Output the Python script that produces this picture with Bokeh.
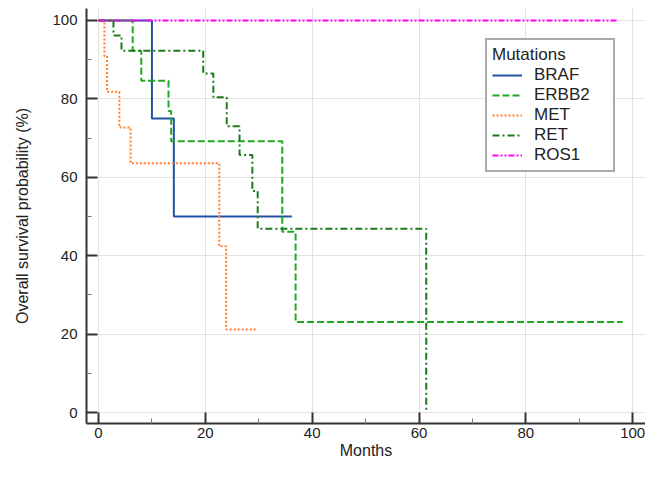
from bokeh.plotting import figure
from bokeh.models import Range1d, Legend, LegendItem, FixedTicker
from bokeh.embed import file_html
from bokeh.resources import INLINE

# Kaplan-Meier step data (months, survival %)
braf_t = [0, 10.0, 14.1, 36.2]
braf_s = [100, 75.0, 50.0, 50.0]
erbb2_t = [0, 6.4, 8.0, 13.1, 13.6, 34.4, 36.9, 98.1]
erbb2_s = [100, 92.3, 84.6, 76.9, 69.2, 46.1, 23.1, 23.1]
met_t = [0, 1.1, 1.6, 3.9, 6.0, 22.6, 23.9, 29.8]
met_s = [100, 90.9, 81.8, 72.7, 63.6, 42.4, 21.2, 21.2]
ret_t = [0, 2.8, 4.3, 19.6, 21.5, 24.0, 26.4, 28.8, 29.8, 61.35]
ret_s = [100, 96.2, 92.3, 86.5, 80.4, 73.0, 65.7, 56.5, 46.9, 0]
ros1_t = [0, 97.0]
ros1_s = [100, 100]

labels = ["BRAF", "ERBB2", "MET", "RET", "ROS1"]
x_ticks = [0, 20, 40, 60, 80, 100]
x_minor = [10, 30, 50, 70, 90]
y_ticks = [0, 20, 40, 60, 80, 100]
y_minor = [10, 30, 50, 70, 90]

FONT = "Liberation Sans"

p = figure(width=645, height=463, output_backend="svg", toolbar_location=None,
           x_range=Range1d(-2.25, 102.4), y_range=Range1d(-2.8, 103.06),
           min_border_left=86, min_border_right=0, min_border_top=8, min_border_bottom=40)
p.outline_line_color = None
p.background_fill_color = "white"
p.border_fill_color = "white"

series = [
    (braf_t, braf_s, "#2152a2", "solid"),
    (erbb2_t, erbb2_s, "#22a722", "7 3"),
    (met_t, met_s, "#ff7f2a", "2 2"),
    (ret_t, ret_s, "#1c7a1c", "7 3 2 3"),
    (ros1_t, ros1_s, "#ff00ff", "6 2 2 2 2 2"),
]
renderers = []
for (t, s, c, d) in series:
    r = p.step(t, s, mode="after", line_color=c, line_width=2, line_dash=d)
    renderers.append(r)

for ax, tk, mn in [(p.xaxis, x_ticks, x_minor), (p.yaxis, y_ticks, y_minor)]:
    ax.ticker = FixedTicker(ticks=tk, minor_ticks=mn)
    ax.axis_line_color = "#333333"
    ax.axis_line_width = 2
    ax.major_tick_in = 11
    ax.major_tick_out = 0
    ax.major_tick_line_color = "#333333"
    ax.major_tick_line_width = 2
    ax.minor_tick_in = 5
    ax.minor_tick_out = 0
    ax.minor_tick_line_color = "#777777"
    ax.minor_tick_line_width = 1
    ax.major_label_text_font = FONT
    ax.major_label_text_font_size = "15px"
    ax.major_label_text_color = "#222222"
    ax.axis_label_text_font = FONT
    ax.axis_label_text_font_size = "16px"
    ax.axis_label_text_font_style = "normal"
    ax.axis_label_text_color = "#222222"

p.xaxis.axis_label = "Months"
p.yaxis.axis_label = "Overall survival probability (%)"
p.xaxis.major_label_standoff = 4
p.xaxis.axis_label_standoff = 1
p.yaxis.major_label_standoff = 9
p.yaxis.axis_label_standoff = 18

p.xgrid.ticker = FixedTicker(ticks=x_ticks)
p.ygrid.ticker = FixedTicker(ticks=y_ticks)
p.xgrid.grid_line_color = "#e2e2e2"
p.ygrid.grid_line_color = "#e2e2e2"
p.xgrid.grid_line_width = 1
p.ygrid.grid_line_width = 1

items = [LegendItem(label=lab, renderers=[r]) for lab, r in zip(labels, renderers)]
legend = Legend(items=items, title="Mutations", location=(399, 251))
legend.title_text_font = FONT
legend.title_text_font_size = "17px"
legend.title_text_font_style = "normal"
legend.title_text_color = "#222222"
legend.title_standoff = 0
legend.label_text_font = FONT
legend.label_text_font_size = "17px"
legend.label_text_color = "#222222"
legend.label_height = 20
legend.label_width = 74
legend.glyph_height = 20
legend.glyph_width = 30
legend.label_standoff = 12
legend.spacing = 0
legend.padding = 5
legend.margin = 0
legend.border_line_color = "#555555"
legend.border_line_width = 2
legend.background_fill_color = "white"
legend.background_fill_alpha = 1
p.add_layout(legend)

open("out.html", "w").write(file_html(p, INLINE))
